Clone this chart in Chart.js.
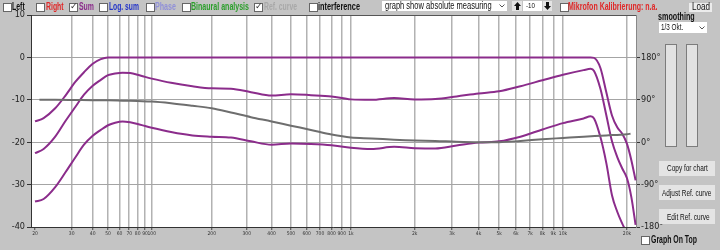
<!DOCTYPE html>
<html>
<head>
<meta charset="utf-8">
<script src="https://cdn.jsdelivr.net/npm/chart.js@4.4.1/dist/chart.umd.min.js"></script>
<style>
  html, body { margin: 0; padding: 0; }
  body { width: 720px; height: 250px; background: #c4c4c4; position: relative; overflow: hidden;
         font-family: 'Liberation Sans', Arial, sans-serif; color: #111; }
  #chart { position: absolute; left: 0; top: 0; }
  .t { position: absolute; white-space: nowrap; font-size: 10px; line-height: 12px; transform-origin: 0 50%; }
  .b { font-weight: bold; }
  .cb { position: absolute; width: 7px; height: 7px; background: #fff; border: 1px solid #666; }
  .cb.on::after { content: '\2713'; position: absolute; left: 0; top: -3px; font: 9px 'DejaVu Sans', sans-serif; color: #333; }
  .box { position: absolute; background: #fff; }
  .btn { position: absolute; background: #e4e4e4; }
  .bar { position: absolute; background: #e2e2e2; border: 1px solid #7c7c7c; box-sizing: border-box; }
</style>
</head>
<body>
<canvas id="chart" width="720" height="250"></canvas>

<!-- top toolbar -->
<div class="cb" style="left:3px;top:3px"></div><div class="t b" data-w="12.7" style="left:12.3px;top:0.5px">Left</div>
<div class="cb" style="left:36px;top:3px"></div><div class="t b" data-w="17.6" style="left:45.7px;top:0.5px;color:#e02828">Right</div>
<div class="cb on" style="left:69px;top:3px"></div><div class="t b" data-w="15" style="left:79px;top:0.5px;color:#8b2c8b">Sum</div>
<div class="cb" style="left:99px;top:3px"></div><div class="t b" data-w="30" style="left:109px;top:0.5px;color:#2233c8">Log. sum</div>
<div class="cb" style="left:146px;top:3px"></div><div class="t b" data-w="21" style="left:155px;top:0.5px;color:#9090d8">Phase</div>
<div class="cb" style="left:182px;top:3px"></div><div class="t b" data-w="58" style="left:191px;top:0.5px;color:#2a9e2a">Binaural analysis</div>
<div class="cb on" style="left:254px;top:3px"></div><div class="t b" data-w="33" style="left:264px;top:0.5px;color:#a8a8a8">Ref. curve</div>
<div class="cb" style="left:309px;top:3px"></div><div class="t b" data-w="42" style="left:318px;top:0.5px">interference</div>

<div class="box" style="left:381.7px;top:1px;width:125px;height:10px"></div>
<div class="t" data-w="106.7" style="left:385px;top:0px">graph show absolute measuring</div>
<svg style="position:absolute;left:499px;top:4px" width="6" height="4"><polyline points="0.5,0.5 3,3 5.5,0.5" fill="none" stroke="#555" stroke-width="1"/></svg>
<div class="btn" style="left:511.7px;top:1px;width:10px;height:10px"></div>
<svg style="position:absolute;left:513.5px;top:2px" width="7" height="8"><path d="M3.5 0 L7 4 H5 V8 H2 V4 H0 Z" fill="#111"/></svg>
<div class="box" style="left:523px;top:1px;width:18.7px;height:10px"></div>
<div class="t" data-w="9" style="left:525.5px;top:0px;font-size:8px">-10</div>
<div class="btn" style="left:542.7px;top:1px;width:9px;height:10px"></div>
<svg style="position:absolute;left:543.7px;top:2px" width="7" height="8"><path d="M3.5 8 L7 4 H5 V0 H2 V4 H0 Z" fill="#111"/></svg>
<div class="cb" style="left:560px;top:3px"></div><div class="t b" data-w="89.4" style="left:568.3px;top:0.5px;color:#e02828">Mikrofon Kalibrierung: n.a.</div>
<div class="btn" style="left:689px;top:2.5px;width:23px;height:9px;background:#ececec"></div>
<div class="t" data-w="18" style="left:691.7px;top:1px">Load</div>

<!-- right panel -->
<div class="t b" data-w="36.7" style="left:658.3px;top:11px">smoothing</div>
<div class="box" style="left:659px;top:21.7px;width:48px;height:11px"></div>
<div class="t" data-w="22.3" style="left:661px;top:21.3px;font-size:9.5px">1/3 Okt.</div>
<svg style="position:absolute;left:699px;top:25.5px" width="6" height="4"><polyline points="0.5,0.5 3,3 5.5,0.5" fill="none" stroke="#555" stroke-width="1"/></svg>
<div class="bar" style="left:665px;top:44px;width:12px;height:103px"></div>
<div class="bar" style="left:686px;top:44px;width:12px;height:103px"></div>
<div class="btn" style="left:659.3px;top:160.7px;width:55.7px;height:15.3px"></div>
<div class="t" data-w="40.7" style="left:666.7px;top:162.3px;font-size:9.5px">Copy for chart</div>
<div class="btn" style="left:659.3px;top:185px;width:55.7px;height:15.3px"></div>
<div class="t" data-w="49.3" style="left:662.3px;top:186.7px;font-size:9.5px">Adjust Ref. curve</div>
<div class="btn" style="left:659.3px;top:208.5px;width:55.7px;height:15.5px"></div>
<div class="t" data-w="42.7" style="left:666.7px;top:210.7px;font-size:9.5px">Edit Ref. curve</div>
<div class="cb" style="left:641px;top:236px"></div><div class="t b" data-w="46" style="left:650.7px;top:234px">Graph On Top</div>

<script>
/* ===== DATA ===== */
const freqs = [20, 22, 25, 28, 31.5, 35.5, 40, 45, 50, 56, 63, 71, 80, 90, 100, 125, 160, 200, 250, 315,
  400, 500, 630, 800, 1000, 1250, 1600, 2000, 2500, 3150, 4000, 5000, 6300, 8000, 10000, 12500,
  13500, 14000, 15000, 16000, 17000, 18000, 19000, 20000, 21000, 22000];

const sumUpper = [-15.1, -14.3, -12.0, -9.0, -5.8, -3.5, -1.5, -0.4, 0, 0, 0, 0, 0, 0, 0, 0, 0, 0, 0, 0,
  0, 0, 0, 0, 0, 0, 0, 0, 0, 0, 0, 0, 0, 0, 0, 0,
  0, -0.1, -2.5, -8.3, -13.7, -16.5, -18.0, -20.4, -24.3, -29.0];

const sumMid = [-22.6, -21.6, -18.7, -15.0, -11.7, -8.8, -6.7, -5.3, -4.2, -3.8, -3.6, -3.7, -4.1, -4.6, -5.0, -6.0, -6.8, -7.3, -7.4, -8.2,
  -9.0, -8.7, -8.9, -9.2, -9.9, -10.0, -9.6, -9.9, -9.8, -9.2, -8.5, -8.0, -6.8, -5.4, -4.1, -3.0,
  -2.7, -3.2, -7.4, -13.7, -19.8, -23.5, -26.2, -28.5, -33.0, -39.5];

const sumLower = [-34.0, -33.4, -30.6, -27.1, -23.6, -20.6, -18.5, -17.1, -16.0, -15.4, -15.1, -15.3, -15.7, -16.2, -16.6, -17.6, -18.4, -18.7, -18.9, -19.8,
  -20.6, -20.3, -20.4, -20.7, -21.3, -21.6, -21.1, -21.4, -21.5, -20.8, -20.1, -19.8, -18.7, -17.0, -15.5, -14.4,
  -13.9, -14.4, -18.8, -25.0, -32.5, -36.4, -39.2, -41.5, -44.0, -46.0];

const refFreqs = [21, 25, 31.5, 40, 50, 63, 80, 100, 125, 160, 200, 250, 315, 400, 500, 630, 800, 1000,
  1250, 1600, 2000, 2500, 3150, 4000, 5000, 6300, 8000, 10000, 12500, 16000, 20000, 20800];
const refCurve = [-10.0, -10.0, -10.05, -10.1, -10.1, -10.2, -10.3, -10.4, -10.8, -11.4, -12.0, -13.0, -14.1, -15.1, -16.1, -17.1, -18.2, -18.9,
  -19.1, -19.4, -19.6, -19.7, -19.9, -20.0, -20.0, -19.7, -19.3, -19.0, -18.7, -18.4, -18.1, -18.0];

const freqTicks = [20, 30, 40, 50, 60, 70, 80, 90, 100, 200, 300, 400, 500, 600, 700, 800, 900, 1000,
  2000, 3000, 4000, 5000, 6000, 7000, 8000, 9000, 10000, 20000];
const freqTickLabels = ['20', '30', '40', '50', '60', '70', '80', '90', '100', '200', '300', '400', '500', '600', '700', '800', '900', '1k',
  '2k', '3k', '4k', '5k', '6k', '7k', '8k', '9k', '10k', '20k'];
const phaseTicks = [-180, -90, 0, 90, 180];

/* ===== FREQUENCY AXIS (the app's log axis is not evenly spaced per decade) ===== */
const axisKnots = [[19.1, 0], [20, 0.0066], [30, 0.0673], [40, 0.1020], [50, 0.1273],
  [100, 0.1996], [1000, 0.5287], [10000, 0.8793], [20000, 0.9851], [22100, 1]];

class FreqScale extends Chart.Scale {
  determineDataLimits() {
    this.min = axisKnots[0][0];
    this.max = axisKnots[axisKnots.length - 1][0];
  }
  buildTicks() {
    return freqTicks.map(v => ({ value: v }));
  }
  getLabelForValue(v) { return String(v); }
  toDecimal(v) {
    const lv = Math.log10(v);
    for (let i = 1; i < axisKnots.length; i++) {
      const a = axisKnots[i - 1], b = axisKnots[i];
      if (lv <= Math.log10(b[0]) || i === axisKnots.length - 1) {
        const la = Math.log10(a[0]), lb = Math.log10(b[0]);
        return a[1] + (lv - la) / (lb - la) * (b[1] - a[1]);
      }
    }
  }
  getPixelForValue(v) {
    return this.getPixelForDecimal(this.toDecimal(v));
  }
  getValueForPixel(p) {
    const d = this.getDecimalForPixel(p);
    for (let i = 1; i < axisKnots.length; i++) {
      const a = axisKnots[i - 1], b = axisKnots[i];
      if (d <= b[1] || i === axisKnots.length - 1) {
        const la = Math.log10(a[0]), lb = Math.log10(b[0]);
        return Math.pow(10, la + (d - a[1]) / (b[1] - a[1]) * (lb - la));
      }
    }
  }
}
FreqScale.id = 'freq';
FreqScale.defaults = {};
Chart.register(FreqScale);

/* ===== CHART ===== */
const narrow = "'Liberation Sans Narrow', 'DejaVu Sans Condensed', 'Liberation Sans', Arial, sans-serif";
const purple = '#8b2c8b';
const pts = (xs, ys) => xs.map((f, i) => ({ x: f, y: ys[i] }));

const plotBg = {
  id: 'plotBg',
  beforeDraw(chart) {
    const { ctx, chartArea: a } = chart;
    ctx.save();
    ctx.fillStyle = '#ffffff';
    ctx.fillRect(a.left, a.top, a.right - a.left, a.bottom - a.top);
    ctx.restore();
  }
};

const lineStyle = { borderWidth: 2, pointRadius: 0, cubicInterpolationMode: 'monotone', fill: false };

new Chart(document.getElementById('chart'), {
  type: 'line',
  data: {
    datasets: [
      { data: pts(refFreqs, refCurve), borderColor: '#6e6e6e', ...lineStyle },
      { data: pts(freqs, sumUpper), borderColor: purple, ...lineStyle },
      { data: pts(freqs, sumMid), borderColor: purple, ...lineStyle },
      { data: pts(freqs, sumLower), borderColor: purple, ...lineStyle }
    ]
  },
  options: {
    responsive: false,
    animation: false,
    devicePixelRatio: 1,
    layout: { padding: { left: 0, right: 0, top: 15, bottom: 0 } },
    plugins: { legend: { display: false }, tooltip: { enabled: false } },
    scales: {
      x: {
        type: 'freq',
        ticks: {
          autoSkip: false, maxRotation: 0, minRotation: 0, padding: 1, color: '#333',
          font: { size: 5, family: narrow },
          callback: (v, i) => freqTickLabels[i]
        },
        grid: {
          color: ctx => (ctx.tick && ctx.tick.value === 20) ? 'rgba(0,0,0,0)' : '#b2b2b2',
          lineWidth: 1.5, tickLength: 3, tickColor: '#444', tickWidth: 1
        },
        border: { color: '#333', width: 1 },
        afterFit: s => { s.height = 23; }
      },
      y: {
        position: 'left', min: -40, max: 10,
        ticks: { stepSize: 10, padding: 2, color: '#222', font: { size: 9, family: narrow } },
        grid: {
          color: ctx => ctx.tick.value === 10 ? '#555' : (ctx.tick.value === -40 ? 'rgba(0,0,0,0)' : '#a4a4a4'),
          lineWidth: 1, tickLength: 4, tickColor: '#333'
        },
        border: { color: '#333', width: 1 },
        afterFit: s => { s.width = 31; }
      },
      y2: {
        position: 'right', min: -180, max: 270,
        afterBuildTicks: s => { s.ticks = phaseTicks.map(v => ({ value: v })); },
        ticks: { padding: 1, color: '#222', font: { size: 9, family: narrow }, callback: v => v + '\u00b0' },
        grid: { drawOnChartArea: false, tickLength: 4, tickColor: '#333' },
        border: { color: '#888', width: 1 },
        afterFit: s => { s.width = 84; }
      }
    }
  },
  plugins: [plotBg]
});

/* ===== SQUEEZE UI TEXT TO THE SCREENSHOT WIDTHS ===== */
document.querySelectorAll('[data-w]').forEach(el => {
  const w = el.getBoundingClientRect().width;
  if (w > 0) el.style.transform = `scaleX(${(+el.dataset.w / w).toFixed(3)})`;
});
</script>
</body>
</html>
